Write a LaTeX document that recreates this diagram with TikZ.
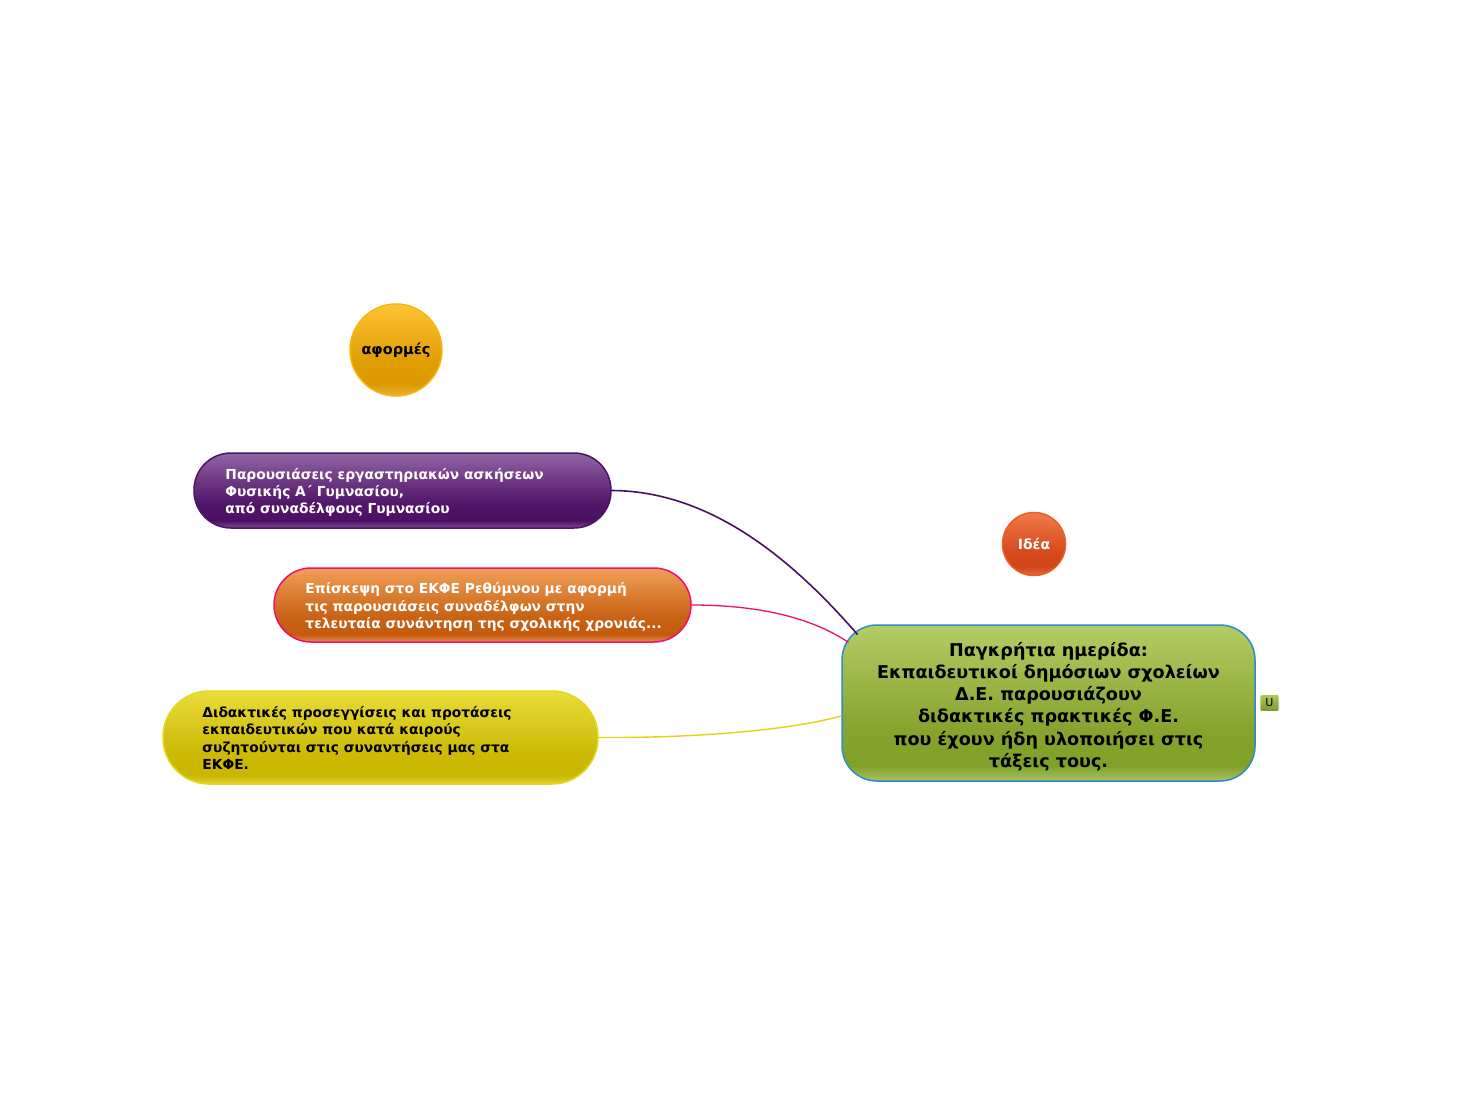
\documentclass[tikz,border=0pt]{standalone}
\usepackage{fontspec}
\setmainfont{DejaVu Sans}
\newfontfamily\iconfont{DejaVu Sans}
\usetikzlibrary{calc}
\definecolor{purpleborder}{HTML}{4C1464}
\definecolor{orangeborder}{HTML}{F0106C}
\definecolor{yellowborder}{HTML}{E6D81E}
\definecolor{centralborder}{HTML}{2C8CCC}
\definecolor{aformborder}{HTML}{F6B80C}
\definecolor{ideaborder}{HTML}{F05A28}
\definecolor{purpleline}{HTML}{4A1062}
\definecolor{pinkline}{HTML}{F0106C}
\definecolor{yellowline}{HTML}{E4D214}
\definecolor{puA}{HTML}{7A4A92}\definecolor{puB}{HTML}{4C1062}\definecolor{puC}{HTML}{52166A}\definecolor{puD}{HTML}{9264A6}
\definecolor{orA}{HTML}{E49050}\definecolor{orB}{HTML}{C45A0E}\definecolor{orC}{HTML}{C86214}\definecolor{orD}{HTML}{F0A058}
\definecolor{yeA}{HTML}{E2D232}\definecolor{yeB}{HTML}{C8B600}\definecolor{yeC}{HTML}{CCBA06}\definecolor{yeD}{HTML}{EADC3A}
\definecolor{ceA}{HTML}{AAC262}\definecolor{ceB}{HTML}{80A028}\definecolor{ceC}{HTML}{86A42E}\definecolor{ceD}{HTML}{B4CC66}
\definecolor{afA}{HTML}{EAB030}\definecolor{afB}{HTML}{DC9800}\definecolor{afC}{HTML}{E09E04}\definecolor{afD}{HTML}{FDC434}
\definecolor{idA}{HTML}{E46A40}\definecolor{idB}{HTML}{D04618}\definecolor{idC}{HTML}{D64C1E}\definecolor{idD}{HTML}{F07A4A}
\definecolor{icA}{HTML}{7C9828}\definecolor{icD}{HTML}{B0C860}
\pgfdeclareverticalshading{purpleshade}{100bp}{color(0bp)=(puA); color(25bp)=(puA); color(30bp)=(puB); color(42bp)=(puC); color(75bp)=(puD); color(100bp)=(puD)}
\pgfdeclareverticalshading{orangeshade}{100bp}{color(0bp)=(orA); color(25bp)=(orA); color(30bp)=(orB); color(42bp)=(orC); color(75bp)=(orD); color(100bp)=(orD)}
\pgfdeclareverticalshading{yellowshade}{100bp}{color(0bp)=(yeA); color(25bp)=(yeA); color(30bp)=(yeB); color(42bp)=(yeC); color(75bp)=(yeD); color(100bp)=(yeD)}
\pgfdeclareverticalshading{centralshade}{100bp}{color(0bp)=(ceA); color(25bp)=(ceA); color(30bp)=(ceB); color(42bp)=(ceC); color(75bp)=(ceD); color(100bp)=(ceD)}
\pgfdeclareverticalshading{aformshade}{100bp}{color(0bp)=(afA); color(25bp)=(afA); color(32bp)=(afB); color(45bp)=(afC); color(75bp)=(afD); color(100bp)=(afD)}
\pgfdeclareverticalshading{ideashade}{100bp}{color(0bp)=(idA); color(25bp)=(idA); color(32bp)=(idB); color(45bp)=(idC); color(75bp)=(idD); color(100bp)=(idD)}
\pgfdeclareverticalshading{iconshade}{100bp}{color(0bp)=(icA); color(25bp)=(icA); color(75bp)=(icD); color(100bp)=(icD)}
\tikzset{
  topicbox/.style={rectangle, rounded corners=37pt, line width=1.5pt, inner sep=0pt},
  topictext/.style={anchor=west, align=left, inner sep=0pt, font=\bfseries\fontsize{13.8}{17.2}\selectfont},
  bubble/.style={circle, line width=1.5pt, inner sep=0pt, font=\bfseries\fontsize{14.5}{15}\selectfont},
  link/.style={line cap=round}
}
\begin{document}
\begin{tikzpicture}[x=1pt,y=-1pt]
\useasboundingbox[fill=white] (0,0) rectangle (1463,1100);

\node[topicbox, shading=centralshade, draw=centralborder, minimum width=413pt, minimum height=156pt, rounded corners=35pt] (c) at (1048.5,703) {};
\node[align=center, inner sep=0pt, font=\bfseries\fontsize{17.6}{22.2}\selectfont] (ct) at ([yshift=-3.5pt]c.center)
  {Παγκρήτια ημερίδα:\\Εκπαιδευτικοί δημόσιων σχολείων\\Δ.Ε. παρουσιάζουν\\διδακτικές πρακτικές Φ.Ε.\\που έχουν ήδη υλοποιήσει στις\\τάξεις τους.};

\node[topicbox, shading=purpleshade, draw=purpleborder, minimum width=417pt, minimum height=75pt] (p) at (402.5,490.5) {};
\node[topictext, text=white] (pt) at ([shift={(32,2)}]p.west)
  {Παρουσιάσεις εργαστηριακών ασκήσεων\\Φυσικής Α΄ Γυμνασίου,\\από συναδέλφους Γυμνασίου};

\node[topicbox, shading=orangeshade, draw=orangeborder, minimum width=417pt, minimum height=74pt] (o) at (482.5,605) {};
\node[topictext, text=white] (ot) at ([shift={(32,2)}]o.west)
  {Επίσκεψη στο ΕΚΦΕ Ρεθύμνου με αφορμή\\τις παρουσιάσεις συναδέλφων στην\\τελευταία συνάντηση της σχολικής χρονιάς...};

\node[topicbox, shading=yellowshade, draw=yellowborder, minimum width=435pt, minimum height=93pt, rounded corners=46pt] (y) at (380.5,737.5) {};
\node[topictext, text=black] (yt) at ([shift={(40,0.5)}]y.west)
  {Διδακτικές προσεγγίσεις και προτάσεις\\εκπαιδευτικών που κατά καιρούς\\συζητούνται στις συναντήσεις μας στα\\ΕΚΦΕ.};

\node[bubble, shading=aformshade, draw=aformborder, minimum size=92pt, text=black] (a) at (396,350) {αφορμές};
\node[bubble, shading=ideashade, draw=ideaborder, minimum size=63pt, text=white, font=\bfseries\fontsize{14}{15}\selectfont] (i) at (1034,544) {Ιδέα};

\node[rectangle, rounded corners=2pt, shading=iconshade, draw=white, line width=0.6pt,
  minimum width=19pt, minimum height=17pt, inner sep=0pt, font=\iconfont\fontsize{11}{11}\selectfont] (ic) at (1269.5,703) {Ս};

\draw[link, purpleline, line width=1.6pt] (p.east) .. controls (700,491) and (780,545) .. ([shift={(16,10)}]c.north west);
\draw[link, pinkline, line width=1.3pt] (o.east) .. controls (765,605) and (815,620) .. ([shift={(7,18)}]c.north west);
\draw[link, yellowline, line width=1.4pt] (y.east) .. controls (700,738) and (790,730) .. ([shift={(0,13)}]c.west);
\end{tikzpicture}
\end{document}
